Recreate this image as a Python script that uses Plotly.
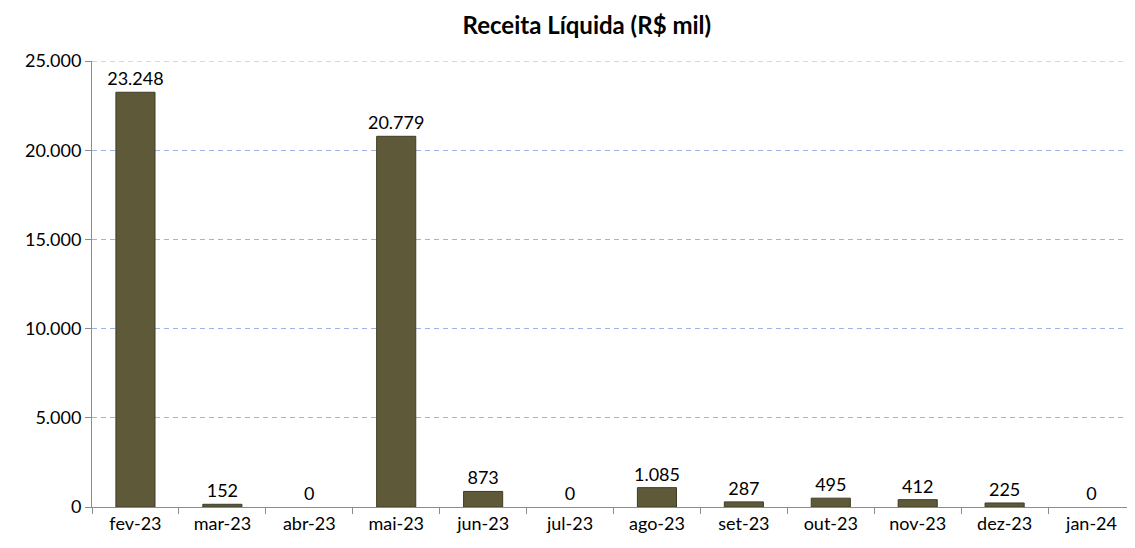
import plotly.graph_objects as go

categories = ["fev-23", "mar-23", "abr-23", "mai-23", "jun-23", "jul-23",
              "ago-23", "set-23", "out-23", "nov-23", "dez-23", "jan-24"]
values = [23248, 152, 0, 20779, 873, 0, 1085, 287, 495, 412, 225, 0]
y_ticks = [0, 5000, 10000, 15000, 20000, 25000]

FONT = "Lato, Carlito, Calibri, sans-serif"
GRID = "#9cb4ea"

fig = go.Figure(go.Bar(
    x=categories, y=values,
    marker=dict(color="#5e5a39",
                line=dict(color="#3f3c25", width=[1 if v > 0 else 0 for v in values])),
    width=0.45,
    texttemplate="%{y:,.0f}", textposition="outside",
    constraintext="none",
    textfont=dict(family=FONT, size=18, color="#000000"),
    cliponaxis=False,
))

fig.update_layout(
    width=1135, height=548,
    margin=dict(l=84, r=8, t=53, b=49),
    plot_bgcolor="white", paper_bgcolor="white",
    separators=",.",
    showlegend=False,
    title=dict(text="<b>Receita Líquida (R$ mil)</b>", x=0.51, xanchor="center",
               y=0.967, yanchor="middle",
               font=dict(family=FONT, size=24, color="#000000")),
)
fig.add_shape(type="line", xref="paper", x0=0, x1=1, yref="y",
              y0=y_ticks[-1], y1=y_ticks[-1],
              line=dict(color=GRID, width=1, dash="5px,4px"), layer="below")
fig.update_xaxes(
    showline=True, linecolor="#8c8c8c", linewidth=1,
    ticks="outside", tickson="boundaries", ticklen=6, tickcolor="#8c8c8c",
    tickfont=dict(family=FONT, size=18, color="#000000"),
    showgrid=False,
)
fig.update_yaxes(
    range=[0, 25000], tickvals=y_ticks, tickformat=",.0f",
    showline=True, linecolor="#8c8c8c", linewidth=1,
    ticks="outside", ticklen=6, tickcolor="#8c8c8c",
    tickfont=dict(family=FONT, size=18, color="#000000"),
    showgrid=True, gridcolor=GRID, griddash="5px,4px", gridwidth=1,
    zeroline=False,
)

fig.write_html("out.html")
